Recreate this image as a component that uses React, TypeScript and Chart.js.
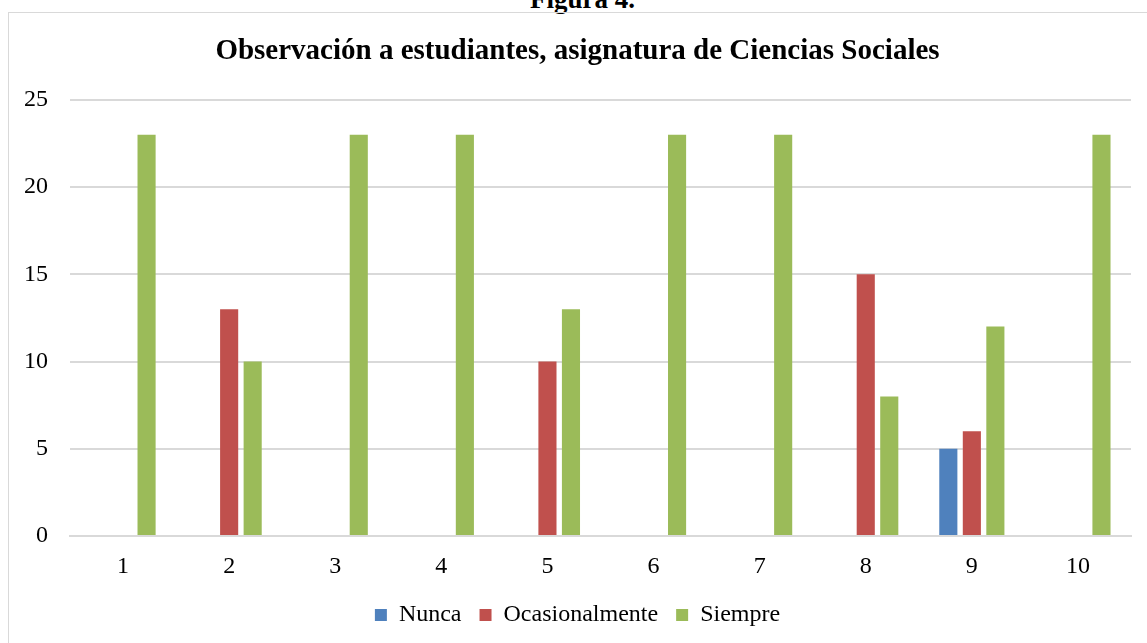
import React, { useEffect, useRef } from "react";
import { Chart, registerables } from "chart.js";

Chart.register(...registerables);

const categories = ["1", "2", "3", "4", "5", "6", "7", "8", "9", "10"];
const nunca = [0, 0, 0, 0, 0, 0, 0, 0, 5, 0];
const ocasionalmente = [0, 13, 0, 0, 10, 0, 0, 15, 6, 0];
const siempre = [23, 10, 23, 23, 13, 23, 23, 8, 12, 23];
const seriesNames = ["Nunca", "Ocasionalmente", "Siempre"];
const yTicks = [0, 5, 10, 15, 20, 25];

const FONT = "'Liberation Serif', 'Times New Roman', serif";

export default function App() {
  const ref = useRef<HTMLCanvasElement | null>(null);

  useEffect(() => {
    if (!ref.current) return;
    const mk = (v: number[]) => v.map((x) => (x === 0 ? null : x));
    const chart = new Chart(ref.current, {
      type: "bar",
      data: {
        labels: categories,
        datasets: [
          { label: seriesNames[0], data: mk(nunca), backgroundColor: "#4F81BD", borderColor: "#4F81BD" },
          { label: seriesNames[1], data: mk(ocasionalmente), backgroundColor: "#C0504D", borderColor: "#C0504D" },
          { label: seriesNames[2], data: mk(siempre), backgroundColor: "#9BBB59", borderColor: "#9BBB59" },
        ],
      },
      options: {
        animation: false,
        responsive: false,
        maintainAspectRatio: false,
        layout: { padding: { left: 15, right: 16, top: 0, bottom: 6 } },
        datasets: { bar: { categoryPercentage: 0.665, barPercentage: 0.77 } },
        plugins: {
          title: {
            display: true,
            text: "Observación a estudiantes, asignatura de Ciencias Sociales",
            color: "#000",
            font: { family: FONT, size: 29, weight: "bold" },
            padding: { top: 21, bottom: 31 },
          },
          legend: {
            position: "bottom",
            labels: {
              color: "#000",
              font: { family: FONT, size: 24 },
              boxWidth: 12,
              boxHeight: 12,
              padding: 18,
            },
          },
          tooltip: { enabled: false },
        },
        scales: {
          x: {
            grid: { display: false, drawTicks: false },
            border: { display: true, color: "#d9d9d9", width: 2 },
            ticks: { color: "#000", font: { family: FONT, size: 24 }, padding: 16 },
            afterFit: (axis: any) => {
              axis.height = 49;
            },
          },
          y: {
            min: 0,
            max: 25,
            afterBuildTicks: (axis: any) => {
              axis.ticks = yTicks.map((v) => ({ value: v }));
            },
            afterFit: (axis: any) => {
              axis.width = 46;
            },
            grid: { color: "#d9d9d9", lineWidth: 2, drawTicks: false },
            border: { display: false },
            ticks: { color: "#000", font: { family: FONT, size: 24 }, padding: 22 },
          },
        },
      },
    });
    return () => chart.destroy();
  }, []);

  return (
    <div style={{ position: "fixed", left: 0, top: 0, width: 1147, height: 643, overflow: "hidden", background: "#fff" }}>
      <div
        style={{
          position: "absolute",
          left: 0,
          width: 1165,
          top: -14,
          textAlign: "center",
          fontFamily: FONT,
          fontWeight: "bold",
          fontSize: 27,
          lineHeight: "27px",
        }}
      >
        Figura 4.
      </div>
      <div
        style={{
          position: "absolute",
          left: 8,
          top: 12,
          width: 1160,
          height: 660,
          border: "1px solid #d9d9d9",
          boxSizing: "border-box",
        }}
      />
      <canvas ref={ref} width={1138} height={630} style={{ position: "absolute", left: 9, top: 13, width: 1138, height: 630 }} />
    </div>
  );
}
